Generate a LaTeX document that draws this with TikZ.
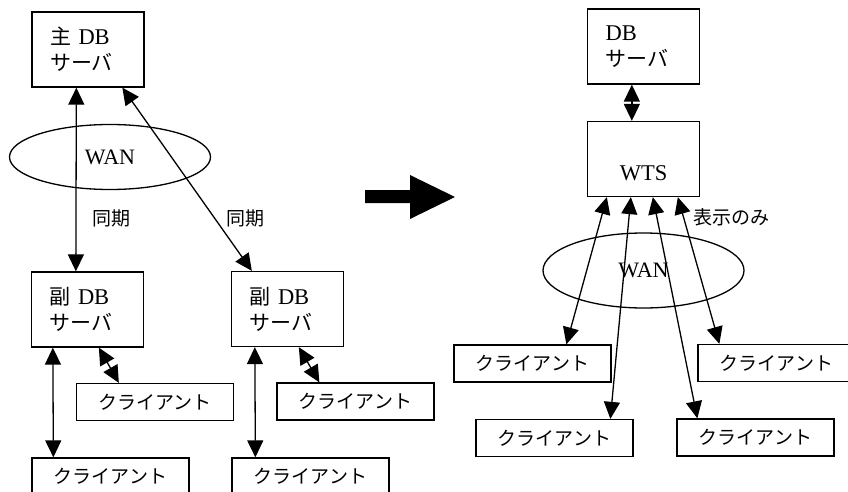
\documentclass[tikz,border=0pt]{standalone}
\usepackage{fontspec}
\setmainfont{Liberation Serif}
\newfontfamily\jp{Noto Sans CJK JP}
\usetikzlibrary{arrows.meta,shapes.geometric}

\tikzset{
  srv/.style={draw, line width=1.3pt, text width=76pt, inner xsep=18pt, inner ysep=0pt,
    minimum height=75pt, align=left, font=\fontsize{22.5}{26}\selectfont},
  cli/.style={draw, line width=1.3pt, minimum width=157pt, minimum height=37pt,
    inner sep=0pt, font=\jp\fontsize{19}{22}\selectfont},
  net/.style={draw, line width=1.3pt, ellipse, inner sep=0pt, font=\fontsize{22}{24}\selectfont},
  link/.style={line width=1.3pt, {Triangle[length=17pt,width=16pt]}-{Triangle[length=17pt,width=16pt]}},
  note/.style={font=\jp\fontsize{19}{20}\selectfont}
}

\begin{document}
\begin{tikzpicture}[x=1pt,y=-1pt]
\useasboundingbox (0,0) rectangle (848,492);
\clip (0,0) rectangle (848,492);

% before: master and replicas
\node[net, minimum width=201pt, minimum height=65pt] (wanL) at (110,157) {WAN};
\node[srv] (main) at (88,49.5) {{\jp\fontsize{21}{26}\selectfont 主} DB\\{\jp\fontsize{21}{26}\selectfont サーバ}};
\node[srv] (sub1) at (87.5,309.5) {{\jp\fontsize{21}{26}\selectfont 副} DB\\{\jp\fontsize{21}{26}\selectfont サーバ}};
\node[srv] (sub2) at (287.5,309) {{\jp\fontsize{21}{26}\selectfont 副} DB\\{\jp\fontsize{21}{26}\selectfont サーバ}};
\node[cli] (cl1) at (155,402) {クライアント};
\node[cli] (cl2) at (355.5,401.5) {クライアント};
\node[cli] (cl3) at (110.5,476.5) {クライアント};
\node[cli] (cl4) at (310.5,476.5) {クライアント};

\draw[link] ([xshift=45pt]main.south west) -- ([xshift=45pt]sub1.north west);
\draw[link] ([xshift=91pt]main.south west) -- ([xshift=21pt]sub2.north west);
\draw[link] ([xshift=22pt]sub1.south west) -- ([xshift=22pt]cl3.north west);
\draw[link] ([xshift=68pt]sub1.south west) -- ([xshift=43pt]cl1.north west);
\draw[link] ([xshift=24pt]sub2.south west) -- ([xshift=24pt]cl4.north west);
\draw[link] ([xshift=68pt]sub2.south west) -- ([xshift=43pt]cl2.north west);
\node[note] (syncA) at (111,218) {同期};
\node[note] (syncB) at (245,218) {同期};

% arrow
\fill (365,190) -- (410,190) -- (410,175) -- (455,197) -- (410,219) -- (410,203) -- (365,203) -- cycle;

% after: terminal server
\node[net, minimum width=201pt, minimum height=75pt] (wanR) at (643.5,270.5) {WAN};
\node[srv] (db) at (643.5,46.5) {DB\\{\jp\fontsize{21}{26}\selectfont サーバ}};
\node[srv, align=center] (wts) at (643.5,159) {\strut\\WTS};
\node[cli] (clA) at (532.5,363.5) {クライアント};
\node[cli] (clB) at (776.5,363) {クライアント};
\node[cli] (clC) at (554.5,438) {クライアント};
\node[cli] (clD) at (755.5,437.5) {クライアント};

\draw[link] ([xshift=45pt]db.south west) -- ([xshift=45pt]wts.north west);
\draw[link] ([xshift=20pt]wts.south west) -- ([xshift=113pt]clA.north west);
\draw[link] ([xshift=44pt]wts.south west) -- ([xshift=135pt]clC.north west);
\draw[link] ([xshift=66pt]wts.south west) -- ([xshift=21pt]clD.north west);
\draw[link] ([xshift=91pt]wts.south west) -- ([xshift=22pt]clB.north west);
\node[note] (view) at (731,217) {表示のみ};
\end{tikzpicture}
\end{document}
